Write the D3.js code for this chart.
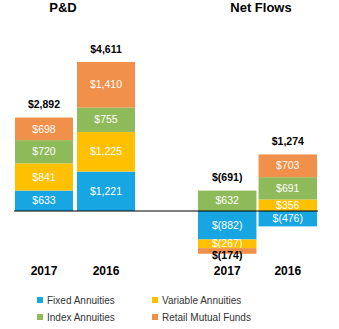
<!DOCTYPE html>
<html><head><meta charset="utf-8">
<script src="https://cdn.jsdelivr.net/npm/d3@7"></script>
<style>body{margin:0;background:#fff}svg{display:block}text{font-family:"Liberation Sans",Arial,sans-serif}</style>
</head><body><svg id="c" width="339" height="329"></svg>
<script>
const series = ["Fixed Annuities","Variable Annuities","Index Annuities","Retail Mutual Funds"];
const colors = ["#18a6e2","#ffc000","#8fba5a","#f1904a"];
const years = ["2017","2016"];
const pdFixed = [633, 1221], pdVariable = [841, 1225], pdIndex = [720, 755], pdRetail = [698, 1410];
const pdTotals = ["$2,892","$4,611"];
const nfFixed = [-882, -476], nfVariable = [-267, 356], nfIndex = [632, 691], nfRetail = [-174, 703];
const nfTotals = ["$(691)","$1,274"];
const panelTitles = ["P&D","Net Flows"];

const svg = d3.select("#c");
const y = d3.scaleLinear().domain([0, 4611]).range([211, 62]);
const fmt = v => v < 0 ? "$(" + d3.format(",")(-v) + ")" : "$" + d3.format(",")(v);

const panels = [
  {title: panelTitles[0], data: [pdFixed, pdVariable, pdIndex, pdRetail], totals: pdTotals, x: d3.scaleBand().domain(years).range([15,135]).paddingInner(0.065), cx: 63},
  {title: panelTitles[1], data: [nfFixed, nfVariable, nfIndex, nfRetail], totals: nfTotals, x: d3.scaleBand().domain(years).range([198,317]).paddingInner(0.035), cx: 261}
];

panels.forEach((p, pi) => {
  svg.append("text").attr("x", p.cx).attr("y", 12).attr("text-anchor","middle")
    .attr("font-size", 13).attr("font-weight","bold").attr("fill","#000").text(p.title);
  years.forEach((yr, yi) => {
    let pos = 0, neg = 0;
    const x0 = p.x(yr), w = p.x.bandwidth();
    p.data.forEach((arr, si) => {
      const v = arr[yi];
      let a, b;
      if (v >= 0) { a = pos; b = pos + v; pos = b; } else { a = neg; b = neg + v; neg = b; }
      const top = y(Math.max(a,b)), bot = y(Math.min(a,b));
      svg.append("rect").attr("x", x0).attr("y", top).attr("width", w).attr("height", bot - top)
        .attr("fill", colors[si]);
      const small = Math.abs(v) < 200;
      const ty = small ? bot + 2 : (top + bot) / 2;
      svg.append("text").attr("x", x0 + w/2).attr("y", ty).attr("dy","0.35em")
        .attr("text-anchor","middle").attr("font-size", 10.5)
        .attr("font-weight", small ? "bold" : "normal")
        .attr("fill", small ? "#000" : "#fff").text(fmt(v));
    });
    svg.append("text").attr("x", x0 + w/2).attr("y", y(pos) - 13).attr("dy","0.35em")
      .attr("text-anchor","middle").attr("font-size", 10.5).attr("font-weight","bold")
      .attr("fill","#000").text(p.totals[yi]);
    svg.append("text").attr("x", x0 + w/2).attr("y", 271).attr("dy","0.35em")
      .attr("text-anchor","middle").attr("font-size", 12).attr("font-weight","bold")
      .attr("fill","#000").text(yr);
  });
});

svg.append("line").attr("x1", 14).attr("x2", 318).attr("y1", y(0)).attr("y2", y(0))
  .attr("stroke","#000").attr("stroke-width", 1.2);

const leg = [[37,300],[152,300],[37,317],[152,317]];
series.forEach((s, i) => {
  svg.append("rect").attr("x", leg[i][0]).attr("y", leg[i][1]-3).attr("width", 6).attr("height", 6).attr("fill", colors[i]);
  svg.append("text").attr("x", leg[i][0] + 10).attr("y", leg[i][1]).attr("dy","0.35em")
    .attr("font-size", 10).attr("fill","#333").text(s);
});
</script></body></html>
